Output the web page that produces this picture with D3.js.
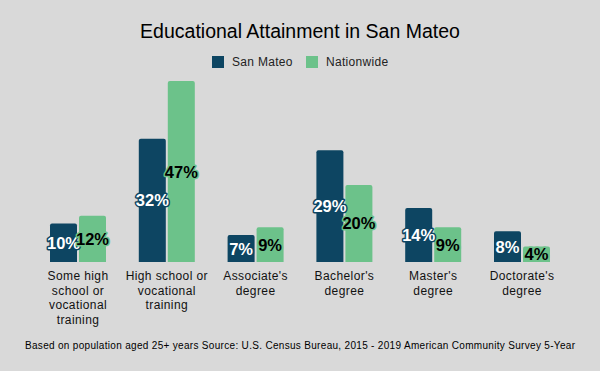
<!DOCTYPE html>
<html>
<head>
<meta charset="utf-8">
<script src="https://cdn.jsdelivr.net/npm/d3@7"></script>
<style>
  body { margin: 0; background: #d9d9d9; }
  text { font-family: "Liberation Sans", Arial, sans-serif; }
</style>
</head>
<body>
<div id="chart"></div>
<script>
// chart data
const categories = [
    ["Some high", "school or", "vocational", "training"],
    ["High school or", "vocational", "training"],
    ["Associate's", "degree"],
    ["Bachelor's", "degree"],
    ["Master's", "degree"],
    ["Doctorate's", "degree"]
];
const seriesNames = ["San Mateo", "Nationwide"];
const sanMateo = [10, 32, 7, 29, 14, 8];
const nationwide = [12, 47, 9, 20, 9, 4];
const colors = ["#0d4562", "#6cc28a"];

const width = 600;
const height = 371;

const svg = d3.select("#chart")
    .append("svg")
    .attr("width", width)
    .attr("height", height)
    .style("background", "#d9d9d9");

// title
svg.append("text")
    .attr("x", width / 2)
    .attr("y", 38)
    .attr("text-anchor", "middle")
    .style("font-size", "19.5px")
    .style("fill", "#000")
    .text("Educational Attainment in San Mateo");

// legend
const legend = svg.append("g");
const legendX = [212, 306];
seriesNames.forEach((name, i) => {
    legend.append("rect")
        .attr("x", legendX[i])
        .attr("y", 56)
        .attr("width", 12)
        .attr("height", 12)
        .attr("fill", colors[i]);
    legend.append("text")
        .attr("x", legendX[i] + 20)
        .attr("y", 66)
        .style("font-size", "12px")
        .style("letter-spacing", "0.3px")
        .style("fill", "#222")
        .text(name);
});

const baseline = 262;
const x = d3.scaleBand()
    .domain(d3.range(categories.length))
    .range([33.6, 566.4]);
const y = d3.scaleLinear()
    .domain([0, 47])
    .range([baseline, 81]);

const barW = 27;
const gap = 2;

const rows = categories.map((c, i) => ({ i: i, values: [sanMateo[i], nationwide[i]] }));

const groups = svg.selectAll("g.grp")
    .data(rows)
    .enter().append("g")
    .attr("class", "grp")
    .attr("transform", d => `translate(${x(d.i) + x.bandwidth() / 2},0)`);

function barX(s) {
    return s == 0 ? -barW - gap / 2 : gap / 2;
}

groups.selectAll("path.bar")
    .data(d => d.values.map((v, s) => ({ v: v, s: s })))
    .enter().append("path")
    .attr("class", "bar")
    .attr("fill", d => colors[d.s])
    .attr("d", d => {
        const x0 = barX(d.s), x1 = x0 + barW, y0 = y(d.v), r = 2;
        return `M${x0},${baseline}V${y0 + r}Q${x0},${y0} ${x0 + r},${y0}H${x1 - r}Q${x1},${y0} ${x1},${y0 + r}V${baseline}Z`;
    });

// value labels with halo
groups.selectAll("text.val")
    .data(d => d.values.map((v, s) => ({ v: v, s: s })))
    .enter().append("text")
    .attr("class", "val")
    .attr("x", d => barX(d.s) + barW / 2)
    .attr("y", d => (y(d.v) + baseline) / 2 + 6)
    .attr("text-anchor", "middle")
    .style("font-size", "16.5px")
    .style("font-weight", "bold")
    .style("paint-order", "stroke")
    .style("stroke", d => colors[d.s])
    .style("stroke-width", "3px")
    .style("stroke-linejoin", "round")
    .style("fill", d => d.s == 0 ? "#fff" : "#000")
    .text(d => d.v + "%");

// category labels
groups.append("text")
    .attr("text-anchor", "middle")
    .attr("y", 280)
    .style("font-size", "12px")
    .style("letter-spacing", "0.4px")
    .style("fill", "#111")
    .selectAll("tspan")
    .data(d => categories[d.i])
    .enter().append("tspan")
    .attr("x", 0)
    .attr("dy", (d, j) => j == 0 ? 0 : 14.5)
    .text(d => d);

// footnote
svg.append("text")
    .attr("x", 25)
    .attr("y", 349)
    .attr("textLength", 550)
    .attr("lengthAdjust", "spacing")
    .style("font-size", "10px")
    .style("fill", "#000")
    .text("Based on population aged 25+ years  Source: U.S. Census Bureau, 2015 - 2019 American Community Survey 5-Year");
</script>
</body>
</html>
